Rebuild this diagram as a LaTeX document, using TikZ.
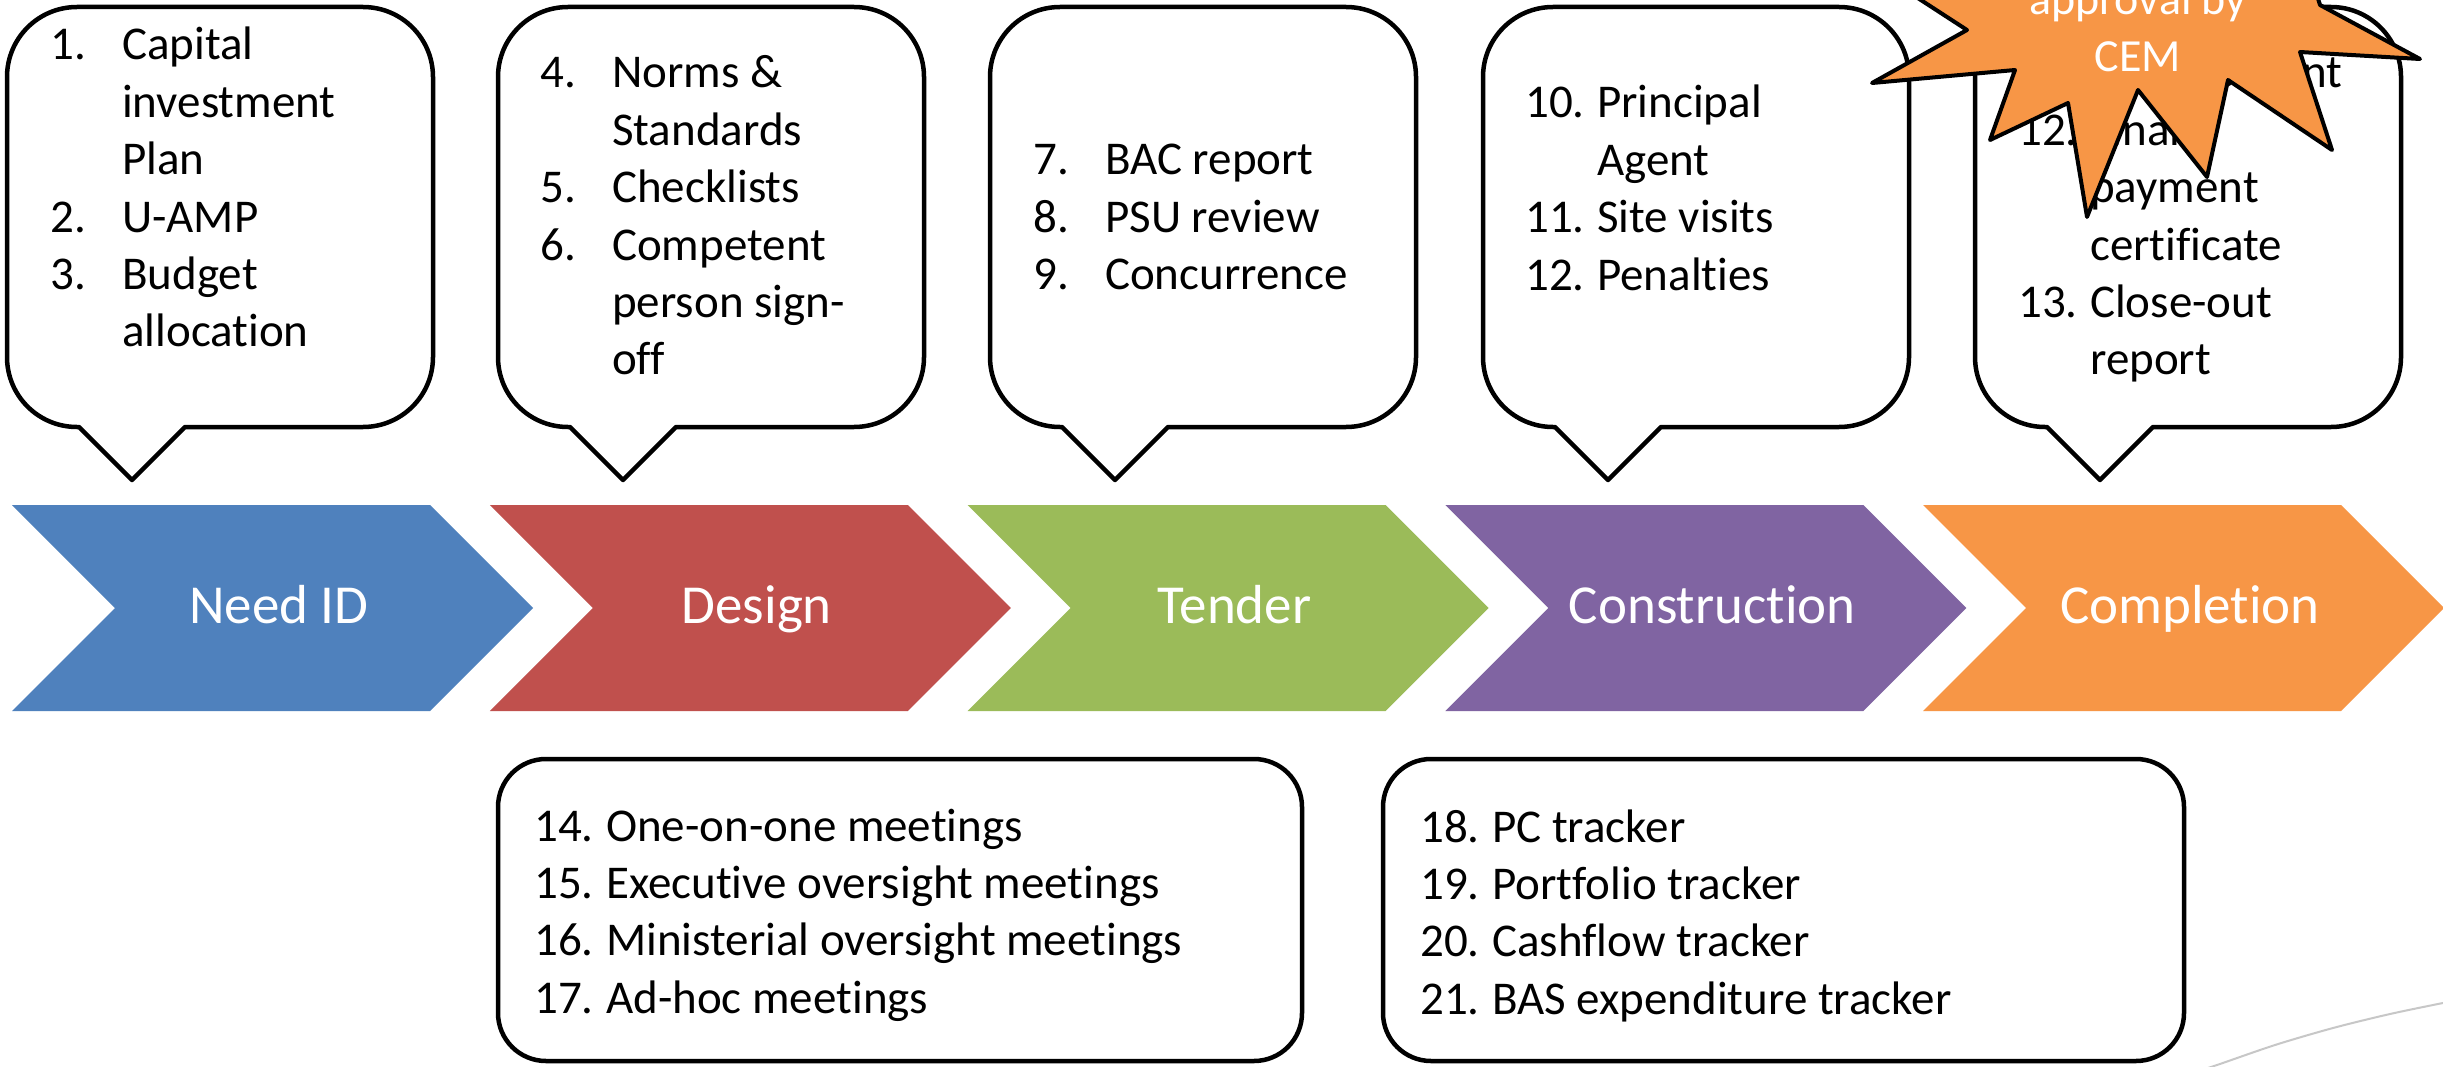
\documentclass[tikz,border=0pt]{standalone}
\usepackage{fontspec}
\setmainfont[Ligatures=NoCommon]{Carlito}
\definecolor{cblue}{HTML}{4F81BD}
\definecolor{cred}{HTML}{C0504D}
\definecolor{cgreen}{HTML}{9BBB59}
\definecolor{cpurple}{HTML}{8064A2}
\definecolor{corange}{HTML}{F79646}
\newcommand\nm[1]{\makebox[72pt][l]{#1}}
\tikzset{
  callout/.style={draw=black, fill=white, line width=4.5pt, line join=round},
  listbox/.style={draw=black, line width=4.5pt, rounded corners=48pt},
  listtext/.style={anchor=base west, inner sep=0pt, font=\fontsize{47}{57.4}\selectfont},
  chevtext/.style={anchor=base, inner sep=0pt, text=white, font=\fontsize{55}{66}\selectfont},
  starshape/.style={draw=black, fill=corange, line width=4pt, line join=round},
  startext/.style={anchor=base, inner sep=0pt, text=white, font=\fontsize{46}{57}\selectfont},
}
\newcommand\drawcallout[1]{%
  \draw[callout] ({#1+70},7) -- ({#1+356},7)
    .. controls ({#1+394.7},7) and ({#1+426},38.3) .. ({#1+426},77)
    -- ({#1+426},357)
    .. controls ({#1+426},395.7) and ({#1+394.7},427) .. ({#1+356},427)
    -- ({#1+178},427) -- ({#1+125},480) -- ({#1+72},427) -- ({#1+70},427)
    .. controls ({#1+31.3},427) and ({#1},395.7) .. ({#1},357)
    -- ({#1},77)
    .. controls ({#1},38.3) and ({#1+31.3},7) .. ({#1+70},7) -- cycle;}
\newcommand\chev[4]{%
  \fill[#2] (#1,505) -- ({#1+418},505) -- ({#1+521},608) -- ({#1+418},711)
    -- (#1,711) -- ({#1+103},608) -- cycle;
  \node[chevtext] (#3) at ({#1+267},623) {#4};}
\begin{document}
\begin{tikzpicture}[x=1pt,y=-1pt]
\useasboundingbox (0,0) rectangle (2443,1067);
\clip (0,0) rectangle (2443,1067);
\fill[white] (0,0) rectangle (2443,1067);

% chevrons
\chev{12}{cblue}{needid}{Need ID}
\chev{489.75}{cred}{design}{Design}
\chev{967.5}{cgreen}{tender}{Tender}
\chev{1445.25}{cpurple}{construction}{Construction}
\chev{1923}{corange}{completion}{Completion}

% callouts
\drawcallout{7}
\drawcallout{498}
\drawcallout{990}
\drawcallout{1483}
\drawcallout{1975}

\node[listtext] (list1) at (50,60) {\begin{tabular}[t]{@{}l@{}}
\nm{1.}Capital\\ \nm{}investment\\ \nm{}Plan\\ \nm{2.}U-AMP\\ \nm{3.}Budget\\ \nm{}allocation
\end{tabular}};
\node[listtext] (list2) at (540,88) {\begin{tabular}[t]{@{}l@{}}
\nm{4.}Norms \&\\ \nm{}Standards\\ \nm{5.}Checklists\\ \nm{6.}Competent\\ \nm{}person sign-\\ \nm{}off
\end{tabular}};
\node[listtext] (list3) at (1033,175) {\begin{tabular}[t]{@{}l@{}}
\nm{7.}BAC report\\ \nm{8.}PSU review\\ \nm{9.}Concurrence
\end{tabular}};
\node[listtext] (list4) at (1525,118) {\begin{tabular}[t]{@{}l@{}}
\nm{10.}Principal\\ \nm{}Agent\\ \nm{11.}Site visits\\ \nm{12.}Penalties
\end{tabular}};
\node[listtext] (list5) at (2018,88) {\begin{tabular}[t]{@{}l@{}}
\nm{11.}Final account\\ \nm{12.}Final\\ \nm{}payment\\ \nm{}certificate\\ \nm{13.}Close-out\\ \nm{}report
\end{tabular}};

% starburst
\draw[starshape] (1890,-20) -- (1967,30) -- (1872,83) -- (2015,70) -- (1990,140)
  -- (2068,103) -- (2087,217) -- (2138,90) -- (2207,177) -- (2228,80)
  -- (2332,150) -- (2300,52) -- (2420,59) -- (2320,5) -- (2300,-60)
  -- (2150,-120) -- (1950,-100) -- cycle;
\node[startext] (cem) at (2138,72) {\begin{tabular}[b]{@{}c@{}}approval by\\ CEM\end{tabular}};

% bottom boxes
\draw[listbox] (498,759) rectangle (1302,1061);
\draw[listbox] (1383,759) rectangle (2184,1061);
\node[listtext] (list6) at (534,841) {\begin{tabular}[t]{@{}l@{}}
\nm{14.}One-on-one meetings\\ \nm{15.}Executive oversight meetings\\ \nm{16.}Ministerial oversight meetings\\ \nm{17.}Ad-hoc meetings
\end{tabular}};
\node[listtext] (list7) at (1420,842) {\begin{tabular}[t]{@{}l@{}}
\nm{18.}PC tracker\\ \nm{19.}Portfolio tracker\\ \nm{20.}Cashflow tracker\\ \nm{21.}BAS expenditure tracker
\end{tabular}};

% faint arc
\draw[black!22, line width=2pt] plot[smooth] coordinates {(2195,1072) (2217,1065) (2275,1045) (2333,1028) (2390,1014) (2443,1003) (2460,1000)};
\end{tikzpicture}
\end{document}
